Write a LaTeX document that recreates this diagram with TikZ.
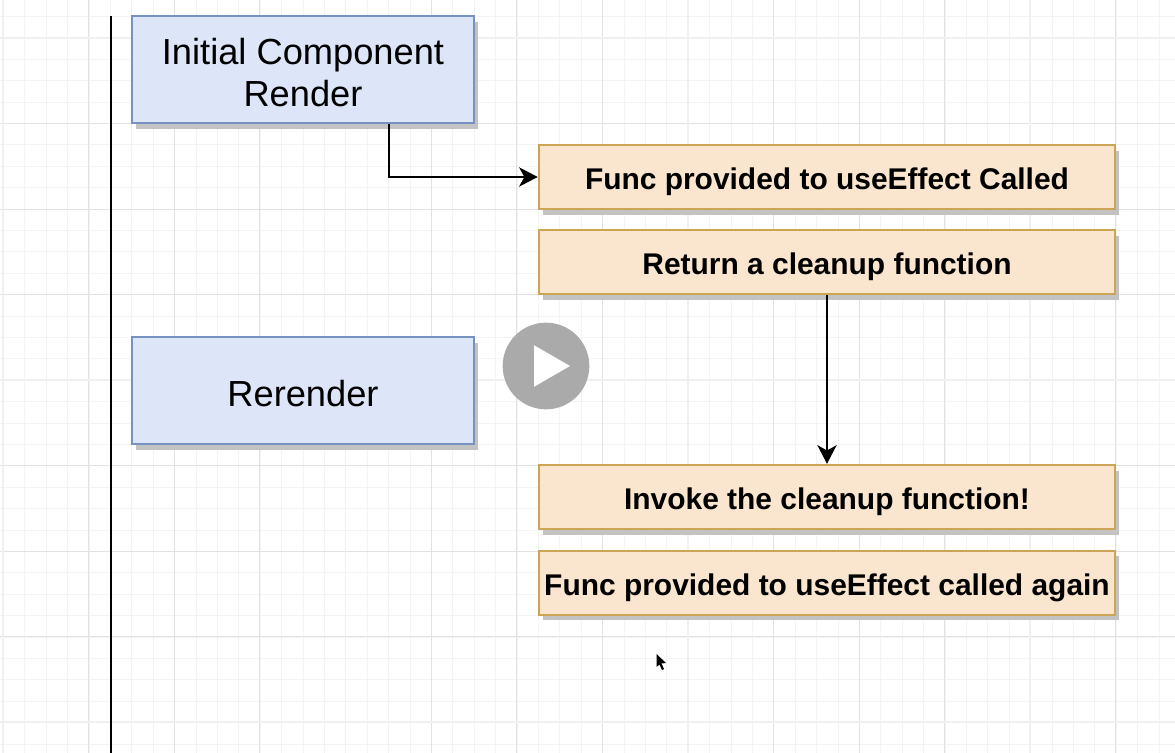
\documentclass[tikz,border=0pt]{standalone}
\usepackage{fontspec}
\setmainfont{Liberation Sans}
\usetikzlibrary{
	positioning,
	arrows.meta,
	shapes.geometric,
	shadows
}
\definecolor{RenderBlue}{RGB}{220,230,248}
\definecolor{RenderEdge}{RGB}{118,146,192}
\definecolor{EffectOrange}{RGB}{250,229,207}
\definecolor{EffectEdge}{RGB}{203,164,84}
\definecolor{BoxShadow}{RGB}{195,195,195}
\definecolor{GridMajor}{RGB}{226,226,226}
\definecolor{GridSoft}{RGB}{240,240,240}
\definecolor{GridMinor}{RGB}{244,244,244}
\definecolor{PlayGray}{RGB}{170,170,170}
\tikzset{
	renderbox/.style={
		draw=RenderEdge,
		fill=RenderBlue,
		line width=1.4pt,
		minimum width=256pt,
		minimum height=80pt,
		align=center,
		text height=24.2pt,
		font=\fontsize{27.2pt}{32pt}\selectfont,
		general shadow={
			shadow xshift=3pt,
			shadow yshift=-4.4pt,
			fill=BoxShadow
		}
	},
	effectbox/.style={
		draw=EffectEdge,
		fill=EffectOrange,
		line width=1.4pt,
		minimum width=432.5pt,
		minimum height=48pt,
		text height=19pt,
		text depth=0pt,
		font=\fontsize{22.45pt}{26pt}\selectfont\bfseries,
		general shadow={
			shadow xshift=3pt,
			shadow yshift=-4.4pt,
			fill=BoxShadow
		}
	},
	flowarrow/.style={
		-{Stealth[length=14pt,width=14.5pt,inset=4pt]},
		line width=1.4pt,
		black
	}
}

\begin{document}
\begin{tikzpicture}[
	x=0.75pt,
	y=-0.75pt,
	node distance=14.5pt
	]
	
	\useasboundingbox (0,0) rectangle (1175,753);
	\fill[white] (0,0) rectangle (1175,753);
	
	% grid
	\foreach \i in {0,...,55}{
		\draw[GridMinor,line width=0.8pt] ({3.5+21.4*\i},0) -- ({3.5+21.4*\i},753);
	}
	\foreach \i in {0,...,35}{
		\draw[GridMinor,line width=0.8pt] (0,{16.5+21.4*\i}) -- (1175,{16.5+21.4*\i});
	}
	\foreach \i in {1,2,3,5,6,7,9,10,11,13}{
		\draw[GridMajor,line width=0.7pt] ({3+85.6*\i},0) -- ({3+85.6*\i},753);
	}
	\foreach \i in {1,2,3,5,6,7}{
		\draw[GridMajor,line width=0.7pt] (0,{38+85.5*\i}) -- (1175,{38+85.5*\i});
	}
	\foreach \i in {0,4,8,12}{
		\draw[GridSoft,line width=1.1pt] ({3+85.6*\i},0) -- ({3+85.6*\i},753);
	}
	\foreach \i in {0,4,8}{
		\draw[GridSoft,line width=1.1pt] (0,{38+85.5*\i}) -- (1175,{38+85.5*\i});
	}
	
	% timeline
	\coordinate (linetop) at (111,16);
	\coordinate (linebottom) at (111,753);
	\draw[line width=1.5pt,black] (linetop) -- (linebottom);
	
	% render boxes
	\node[
	renderbox,
	text height=56.1pt
	] (initial) at (303,69.5) {Initial Component\\Render};
	
	\node[
	renderbox,
	below=159.3pt of initial.south,
	anchor=north
	] (rerender) {Rerender};
	
	% effect boxes
	\node[
	effectbox
	] (func) at (827,177) {Func provided to useEffect Called};
	
	\node[
	effectbox,
	below=of func
	] (cleanup) {Return a cleanup function};
	
	\node[
	effectbox,
	below=126.5pt of cleanup
	] (invoke) {Invoke the cleanup function!};
	
	\node[
	effectbox,
	below=15pt of invoke
	] (again) {Func provided to useEffect called again};
	
	% connectors
	\coordinate (bendstart) at (389,123.5);
	\draw[flowarrow] (bendstart) |- (func.west);
	\draw[flowarrow] (cleanup.south) -- (invoke.north);
	
	% play button
	\node[
	circle,
	fill=PlayGray,
	minimum size=65pt,
	inner sep=0pt
	] (play) at (546,366) {};
	
	\node[
	regular polygon,
	regular polygon sides=3,
	shape border rotate=-90,
	fill=white,
	minimum size=36pt,
	inner sep=0pt
	] (playtri) at (546,366) {};
	
	% mouse pointer
	\fill[black] (656.5,654) -- (656.5,667) -- (659.5,664.5) -- (662,670) -- (664,669) -- (661.5,663.5) -- (666,663) -- cycle;
	
\end{tikzpicture}
\end{document}
